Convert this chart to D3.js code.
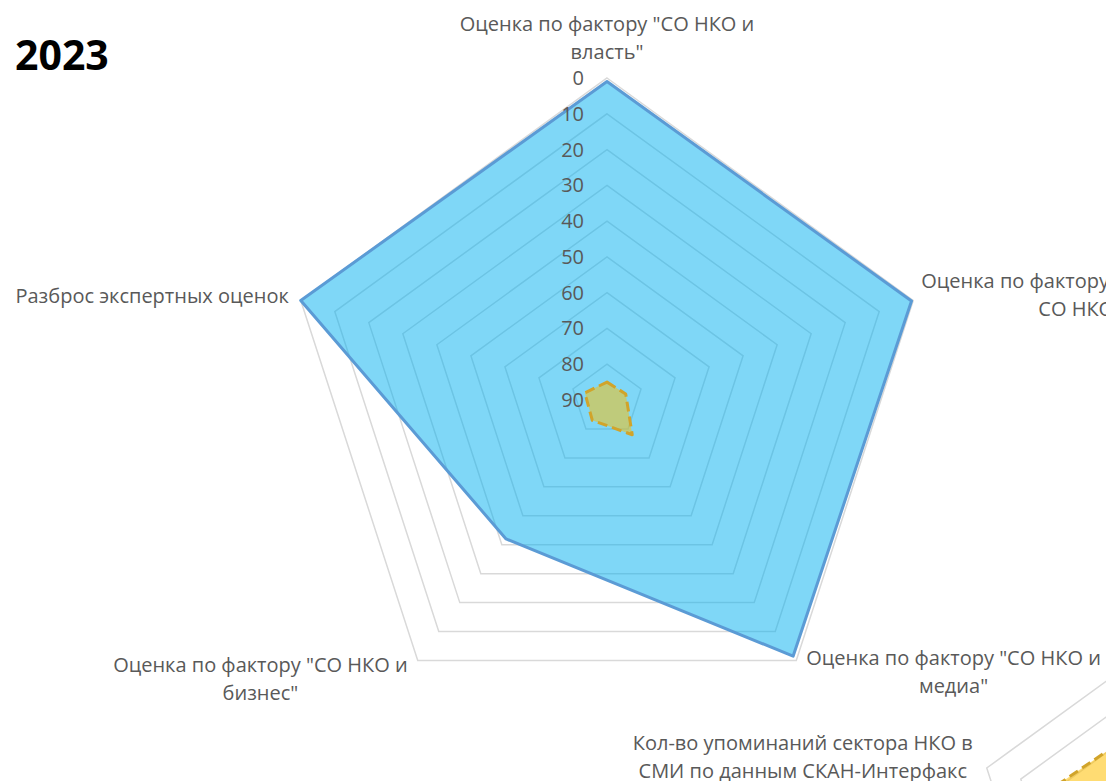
<!DOCTYPE html>
<html>
<head>
  <meta charset="utf-8">
  <title>2023</title>
  <style>
    body { margin: 0; background: #fff; }
    svg { display: block; font-family: "Open Sans", sans-serif; }
  </style>
</head>
<body>
<script src="https://d3js.org/d3.v7.min.js"></script>
<script>
  var width = 1106;
  var height = 781;

  // main chart, axes clockwise from the top, scale reversed (0 outside, 90 centre)
  var categories = [
    'Оценка по фактору "СО НКО и\nвласть"',
    'Оценка по фактору "Общество и\nСО НКО"',
    'Оценка по фактору "СО НКО и\nмедиа"',
    'Оценка по фактору "СО НКО и\nбизнес"',
    'Разброс экспертных оценок'
  ];
  var seriesBlue = [1, 0.5, 1.5, 42, 0];
  var seriesYellow = [85, 84.5, 78, 83, 83.5];
  var tickValues = [0, 10, 20, 30, 40, 50, 60, 70, 80, 90];

  // second chart below, only its left corner is on the page
  var categories2 = ['', '', '', '', 'Кол-во упоминаний сектора НКО в\nСМИ по данным СКАН-Интерфакс'];
  var seriesYellow2 = [22, 20, 15, 25, 19];

  var R = 322;
  var n = categories.length;

  var svg = d3.select('body')
    .append('svg')
      .attr('width', width)
      .attr('height', height);

  svg.append('text')
    .attr('x', 15)
    .attr('y', 70)
    .attr('font-size', 41)
    .attr('font-weight', 'bold')
    .attr('fill', '#000')
    .text('2023');

  var r = d3.scaleLinear().domain([0, 90]).range([R, 0]);

  var radar = d3.lineRadial()
    .angle(function(d, i) { return i * 2 * Math.PI / n; })
    .radius(function(d) { return r(d); })
    .curve(d3.curveLinearClosed);

  function label(g, str, x, y, align) {
    if (!str) return;
    var t = g.append('text')
      .attr('font-size', 20)
      .attr('fill', '#595959')
      .attr('text-anchor', 'middle');
    var spans = str.split('\n').map(function(s, i) {
      return t.append('tspan').attr('y', y + i * 27.5).text(s);
    });
    var w = d3.max(spans, function(s) { return s.node().getComputedTextLength(); });
    var mid = align === 'start' ? x + w / 2 : align === 'end' ? x - w / 2 : x;
    spans.forEach(function(s) { s.attr('x', mid); });
  }

  function vertex(i) {
    var a = i * 2 * Math.PI / n;
    return [R * Math.sin(a), -R * Math.cos(a)];
  }

  function drawRadar(cx, cy, cats, series, labelOffsets, showTicks) {
    var g = svg.append('g').attr('transform', 'translate(' + cx + ',' + cy + ')');

    g.selectAll('path.ring')
      .data(tickValues.slice(0, -1))
      .enter()
      .append('path')
        .attr('class', 'ring')
        .attr('d', function(t) { return radar(cats.map(function() { return t; })); })
        .attr('fill', 'none')
        .attr('stroke', '#d9d9d9')
        .attr('stroke-width', 1.5);

    series.forEach(function(s) {
      g.append('path')
        .attr('d', radar(s.values))
        .attr('fill', s.fill)
        .attr('stroke', s.stroke)
        .attr('stroke-width', s.width)
        .attr('stroke-dasharray', s.dash)
        .attr('stroke-linejoin', 'round');
    });

    if (showTicks) {
      g.selectAll('text.tick')
        .data(tickValues)
        .enter()
        .append('text')
          .attr('class', 'tick')
          .attr('x', -23)
          .attr('y', function(t) { return -r(t) + 7; })
          .attr('text-anchor', 'end')
          .attr('font-size', 20)
          .attr('fill', '#595959')
          .text(function(t) { return t; });
    }

    cats.forEach(function(c, i) {
      var v = vertex(i), o = labelOffsets[i];
      label(g, c, v[0] + o[0], v[1] + o[1], o[2]);
    });
  }

  drawRadar(1293, 867.5, categories2, [
    { values: seriesYellow2, fill: 'rgba(255,192,0,0.55)', stroke: '#d1a42a', width: 3, dash: '10,5' }
  ], [[0, 0, 'middle'], [0, 0, 'start'], [0, 0, 'start'], [0, 0, 'end'], [-14, -18, 'end']], false);

  drawRadar(607, 400, categories, [
    { values: seriesBlue, fill: 'rgba(0,176,240,0.5)', stroke: '#5b9bd5', width: 3, dash: null },
    { values: seriesYellow, fill: 'rgba(255,192,0,0.5)', stroke: '#d1a42a', width: 3, dash: '10,5' }
  ], [[0, -47, 'middle'], [167, -12.5, 'middle'], [10, 4.5, 'start'], [-10, 11.5, 'end'], [-12, 2.5, 'end']], true);
</script>
</body>
</html>
